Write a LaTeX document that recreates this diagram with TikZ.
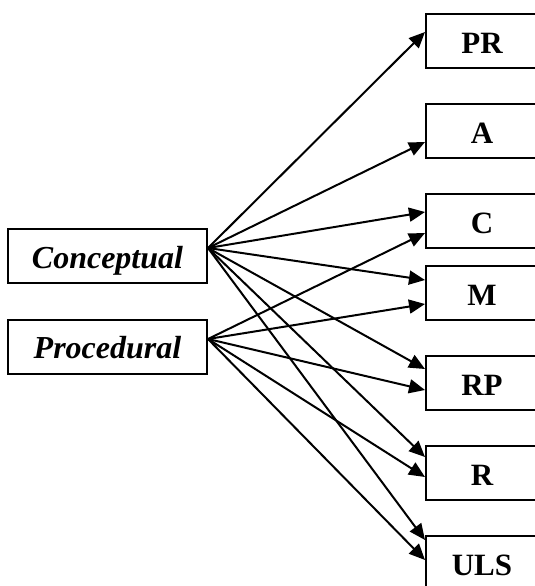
\documentclass[tikz,border=0pt]{standalone}
\usepackage{fontspec}
\setmainfont{Liberation Serif}
\usetikzlibrary{arrows.meta}
\begin{document}
\begin{tikzpicture}[x=1pt,y=-1pt,
  box/.style={draw=black, line width=2pt, inner sep=0pt, text height=24pt, text depth=0pt},
  srcbox/.style={box, minimum width=199pt, minimum height=54pt,
    font=\fontsize{32}{36}\selectfont\bfseries\itshape},
  dstbox/.style={box, minimum width=112pt, minimum height=54pt,
    font=\fontsize{31}{36}\selectfont\bfseries},
  arr/.style={line width=2pt, -{Triangle[length=16pt,width=14pt]}}]
\useasboundingbox (0,0) rectangle (535,586);
\clip (0,0) rectangle (535,586);

% sources
\node[srcbox] (con) at (107.5,256) {Conceptual};
\node[srcbox] (pro) at (107.5,346.5) {Procedural};

% targets
\node[dstbox] (pr)  at (482,41)  {PR};
\node[dstbox] (a)   at (482,131) {A};
\node[dstbox] (c)   at (482,221) {C};
\node[dstbox] (m)   at (482,293) {M};
\node[dstbox] (rp)  at (482,383) {RP};
\node[dstbox] (r)   at (482,473) {R};
\node[dstbox] (uls) at (482,563) {ULS};

% conceptual links
\draw[arr] ([yshift=8pt]con.east) -- ([yshift=9pt]pr.west);
\draw[arr] ([yshift=8pt]con.east) -- ([yshift=-11pt]a.west);
\draw[arr] ([yshift=8pt]con.east) -- ([yshift=9pt]c.west);
\draw[arr] ([yshift=8pt]con.east) -- ([yshift=13pt]m.west);
\draw[arr] ([yshift=8pt]con.east) -- ([yshift=14pt]rp.west);
\draw[arr] ([yshift=8pt]con.east) -- ([yshift=16pt]r.west);
\draw[arr] ([yshift=8pt]con.east) -- ([yshift=23pt]uls.west);

% procedural links
\draw[arr] ([yshift=7.5pt]pro.east) -- ([yshift=-12pt]c.west);
\draw[arr] ([yshift=7.5pt]pro.east) -- ([yshift=-11pt]m.west);
\draw[arr] ([yshift=7.5pt]pro.east) -- ([yshift=-7pt]rp.west);
\draw[arr] ([yshift=7.5pt]pro.east) -- ([yshift=-4pt]r.west);
\draw[arr] ([yshift=7.5pt]pro.east) -- ([yshift=3pt]uls.west);
\end{tikzpicture}
\end{document}
